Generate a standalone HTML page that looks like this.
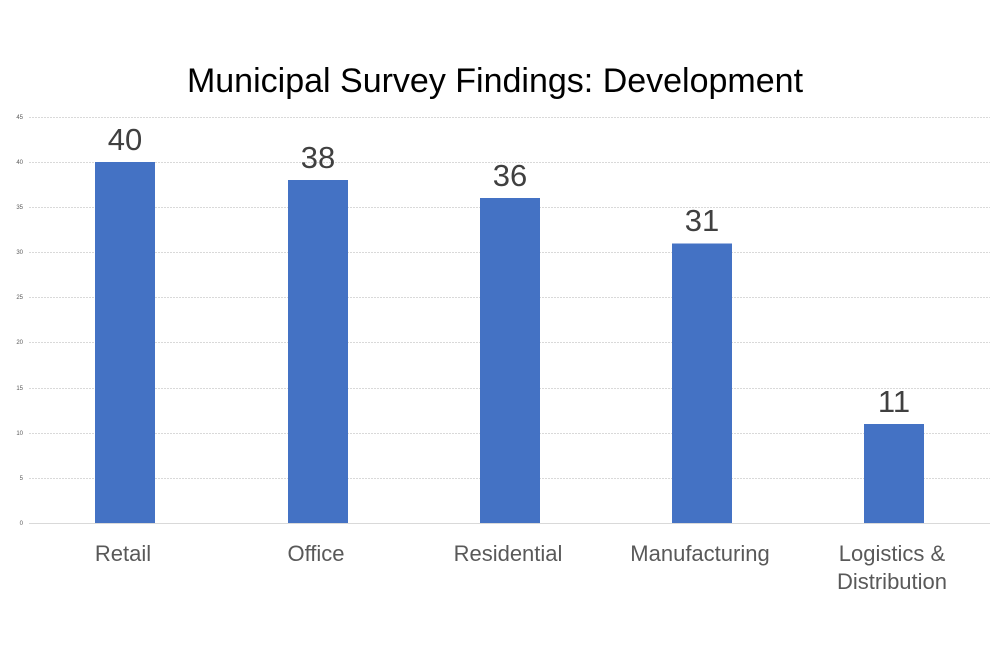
<!DOCTYPE html>
<html><head><meta charset="utf-8"><style>body{margin:0;background:#fff}</style></head><body>
<svg width="1000" height="640" xmlns="http://www.w3.org/2000/svg" font-family="Liberation Sans, sans-serif">
<rect width="1000" height="640" fill="#fff"/>
<text x="495" y="92" text-anchor="middle" font-size="34" fill="#000">Municipal Survey Findings: Development</text>
<g stroke="#d9d9d9" stroke-width="1" stroke-dasharray="2,1">
<line x1="29" x2="990" y1="117.5" y2="117.5"/>
<line x1="29" x2="990" y1="162.5" y2="162.5"/>
<line x1="29" x2="990" y1="207.5" y2="207.5"/>
<line x1="29" x2="990" y1="252.5" y2="252.5"/>
<line x1="29" x2="990" y1="297.5" y2="297.5"/>
<line x1="29" x2="990" y1="342.5" y2="342.5"/>
<line x1="29" x2="990" y1="388.5" y2="388.5"/>
<line x1="29" x2="990" y1="433.5" y2="433.5"/>
<line x1="29" x2="990" y1="478.5" y2="478.5"/>
</g>
<line x1="29" x2="990" y1="523.5" y2="523.5" stroke="#d9d9d9"/>
<g font-size="6" fill="#595959" text-anchor="end">
<text x="23" y="119">45</text><text x="23" y="164">40</text><text x="23" y="209">35</text>
<text x="23" y="254">30</text><text x="23" y="299">25</text><text x="23" y="344">20</text>
<text x="23" y="390">15</text><text x="23" y="435">10</text><text x="23" y="480">5</text><text x="23" y="525">0</text>
</g>
<g fill="#4472c4">
<rect x="95" y="162" width="60" height="361"/>
<rect x="288" y="180" width="60" height="343"/>
<rect x="480" y="198" width="60" height="325"/>
<rect x="672" y="243.5" width="60" height="279.5"/>
<rect x="864" y="424" width="60" height="99"/>
</g>
<g font-size="31" fill="#404040" text-anchor="middle">
<text x="125" y="150">40</text><text x="318" y="168">38</text><text x="510" y="186">36</text>
<text x="702" y="231">31</text><text x="894" y="412">11</text>
</g>
<g font-size="22" fill="#595959" text-anchor="middle">
<text x="123" y="561">Retail</text><text x="316" y="561">Office</text><text x="508" y="561">Residential</text>
<text x="700" y="561">Manufacturing</text><text x="892" y="561">Logistics &amp;</text><text x="892" y="589">Distribution</text>
</g>
</svg>
</body></html>
